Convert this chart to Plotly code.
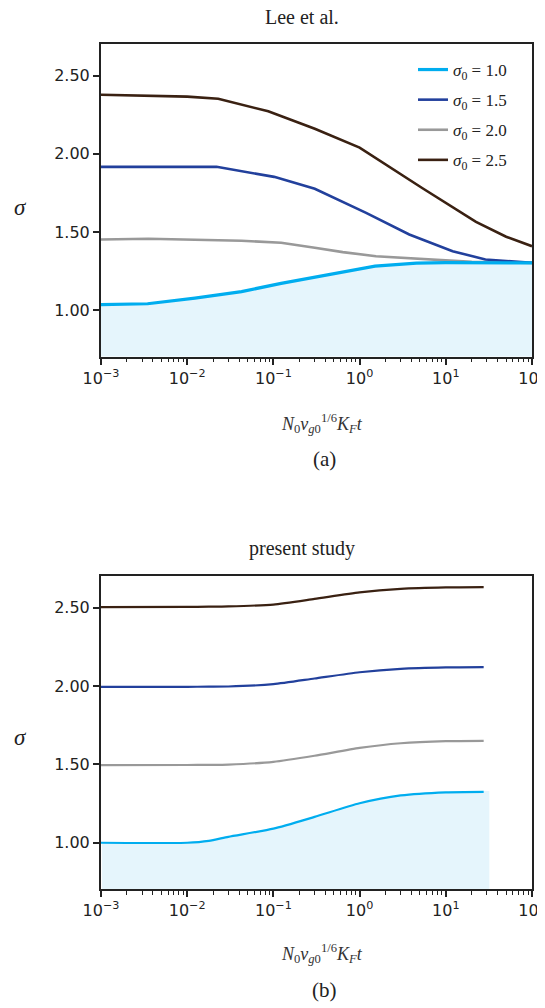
import plotly.graph_objects as go

# ---------------- data ----------------
series_labels = ["σ0 = 1.0", "σ0 = 1.5", "σ0 = 2.0", "σ0 = 2.5"]
legend_text = ["<i>σ</i><sub>0</sub> = 1.0", "<i>σ</i><sub>0</sub> = 1.5",
               "<i>σ</i><sub>0</sub> = 2.0", "<i>σ</i><sub>0</sub> = 2.5"]
colors = ["#00adef", "#22409c", "#999999", "#3a2112"]
fill_color = "#e5f5fc"

# (a) Lee et al.
lee_x_10 = [0.001, 0.00347, 0.0123, 0.0427, 0.123, 0.302, 1.0, 1.51, 4.57, 10.0, 100.0]
lee_y_10 = [1.036, 1.042, 1.078, 1.120, 1.172, 1.212, 1.262, 1.282, 1.302, 1.305, 1.303]

lee_x_15 = [0.001, 0.0219, 0.102, 0.302, 1.19, 3.77, 12.0, 28.8, 100.0]
lee_y_15 = [1.917, 1.917, 1.853, 1.777, 1.623, 1.485, 1.378, 1.325, 1.304]

lee_x_20 = [0.001, 0.00355, 0.0427, 0.123, 0.302, 0.638, 1.55, 5.89, 20.0, 100.0]
lee_y_20 = [1.453, 1.457, 1.445, 1.432, 1.400, 1.372, 1.346, 1.325, 1.310, 1.303]

lee_x_25 = [0.001, 0.01, 0.0229, 0.0871, 0.302, 1.0, 5.37, 22.4, 50.1, 100.0]
lee_y_25 = [2.378, 2.366, 2.352, 2.272, 2.160, 2.040, 1.780, 1.565, 1.470, 1.410]

# (b) present study
ps_x = [0.001, 0.01, 0.0178, 0.03, 0.1, 0.3, 1.0, 3.0, 10.0, 27.5]
ps_y_10 = [1.000, 1.000, 1.012, 1.038, 1.090, 1.165, 1.252, 1.302, 1.322, 1.325]
ps_y_15 = [1.994, 1.995, 1.996, 1.997, 2.012, 2.048, 2.088, 2.110, 2.119, 2.121]
ps_y_20 = [1.495, 1.496, 1.497, 1.499, 1.516, 1.555, 1.605, 1.635, 1.648, 1.650]
ps_y_25 = [2.504, 2.505, 2.506, 2.508, 2.520, 2.556, 2.598, 2.620, 2.629, 2.631]
ps_fill_x = [0.00103, 0.01, 0.0178, 0.03, 0.1, 0.3, 1.0, 3.0, 10.0, 27.5, 32.0]
ps_fill_y = [1.000, 1.000, 1.012, 1.038, 1.090, 1.165, 1.252, 1.302, 1.322, 1.330, 1.330]

xtick_vals = [0.001, 0.01, 0.1, 1, 10, 100]
xtick_text = ["10<sup>−3</sup>", "10<sup>−2</sup>", "10<sup>−1</sup>",
              "10<sup>0</sup>", "10<sup>1</sup>", "10<sup>2</sup>"]
ytick_vals = [1.0, 1.5, 2.0, 2.5]
ytick_text = ["1.00", "1.50", "2.00", "2.50"]

panel_titles = ["Lee et al.", "present study"]
panel_tags = ["(a)", "(b)"]
xlabel = "<i>N</i><sub>0</sub><i>v</i><sub><i>g</i>0</sub><sup>1/6</sup><i>K</i><sub><i>F</i></sub><i>t</i>"

# ---------------- figure ----------------
# the page body has an 8px margin, so the figure is drawn 8px in from the window corner
OFF = 8
W, H = 545 - OFF, 1008 - OFF


def fx(px):
    return (px - OFF) / W


def fy(py):
    return 1 - (py - OFF) / H


fig = go.Figure()

# top panel
fig.add_trace(go.Scatter(x=lee_x_10, y=lee_y_10, mode="lines", line=dict(width=0),
                         fill="tozeroy", fillcolor=fill_color, showlegend=False,
                         hoverinfo="skip", xaxis="x", yaxis="y"))
top_sets = [(lee_x_20, lee_y_20, 2), (lee_x_15, lee_y_15, 1), (lee_x_25, lee_y_25, 3), (lee_x_10, lee_y_10, 0)]
for xs, ys, i in top_sets:
    fig.add_trace(go.Scatter(x=xs, y=ys, mode="lines", name=legend_text[i],
                             line=dict(color=colors[i], width=3.2 if i == 0 else 2.6),
                             legendrank=i + 1, legendgroup=str(i),
                             xaxis="x", yaxis="y"))

# bottom panel
fig.add_trace(go.Scatter(x=ps_fill_x, y=ps_fill_y, mode="lines",
                         line=dict(width=0, shape="spline", smoothing=0.6),
                         fill="tozeroy", fillcolor=fill_color, showlegend=False,
                         hoverinfo="skip", xaxis="x2", yaxis="y2"))
for ys, i in [(ps_y_20, 2), (ps_y_15, 1), (ps_y_25, 3), (ps_y_10, 0)]:
    fig.add_trace(go.Scatter(x=ps_x, y=ys, mode="lines", name=series_labels[i], showlegend=False,
                             line=dict(color=colors[i], width=2.2, shape="spline", smoothing=0.6),
                             xaxis="x2", yaxis="y2"))

axis_line = dict(showline=True, mirror=True, linecolor="#222222", linewidth=2,
                 ticks="outside", ticklen=6, tickwidth=1.5, tickcolor="#222222",
                 showgrid=False, zeroline=False, automargin=False,
                 ticklabeloverflow="allow",
                 tickfont=dict(family="DejaVu Sans", size=16, color="#222222"))

xcommon = dict(type="log", range=[-3, 2], tickmode="array", tickvals=xtick_vals, ticktext=xtick_text,
               minor=dict(ticks="outside", ticklen=3.5, tickwidth=1.1, tickcolor="#222222",
                          showgrid=False, dtick="D1"),
               domain=[fx(101), fx(532)], **axis_line)
ycommon = dict(range=[0.705, 2.702], tickmode="array", tickvals=ytick_vals, ticktext=ytick_text,
               **axis_line)

fig.update_layout(
    width=W, height=H, autosize=False,
    margin=dict(l=0, r=0, t=0, b=0, autoexpand=False),
    paper_bgcolor="white", plot_bgcolor="white",
    xaxis=dict(anchor="y", **xcommon),
    yaxis=dict(anchor="x", domain=[fy(356.5), fy(44)], **ycommon),
    xaxis2=dict(anchor="y2", **xcommon),
    yaxis2=dict(anchor="x2", domain=[fy(889), fy(576)], **ycommon),
    legend=dict(x=fx(413), y=fy(52), xanchor="left", yanchor="top",
                bgcolor="rgba(0,0,0,0)", borderwidth=0, tracegroupgap=5,
                font=dict(family="Liberation Serif", size=17, color="#222222"),
                itemwidth=30),
    showlegend=True,
)

annots = []
serif = "Liberation Serif"
for title, ty in zip(panel_titles, [17, 548]):
    annots.append(dict(text=title, x=fx(302), y=fy(ty), xref="paper", yref="paper",
                       showarrow=False, xanchor="center", yanchor="middle",
                       font=dict(family=serif, size=20, color="#222222")))
for tag, ty in zip(panel_tags, [459, 990]):
    annots.append(dict(text=tag, x=fx(324), y=fy(ty), xref="paper", yref="paper",
                       showarrow=False, xanchor="center", yanchor="middle",
                       font=dict(family=serif, size=21, color="#222222")))
for ty in [423, 953]:
    annots.append(dict(text=xlabel, x=fx(322), y=fy(ty), xref="paper", yref="paper",
                       showarrow=False, xanchor="center", yanchor="middle",
                       font=dict(family=serif, size=18, color="#333333")))
for ty in [207, 737]:
    annots.append(dict(text="<i>σ</i>", x=fx(20), y=fy(ty), xref="paper", yref="paper",
                       showarrow=False, xanchor="center", yanchor="middle",
                       font=dict(family=serif, size=23, color="#222222")))
fig.update_layout(annotations=annots)

fig.write_html("out.html")
